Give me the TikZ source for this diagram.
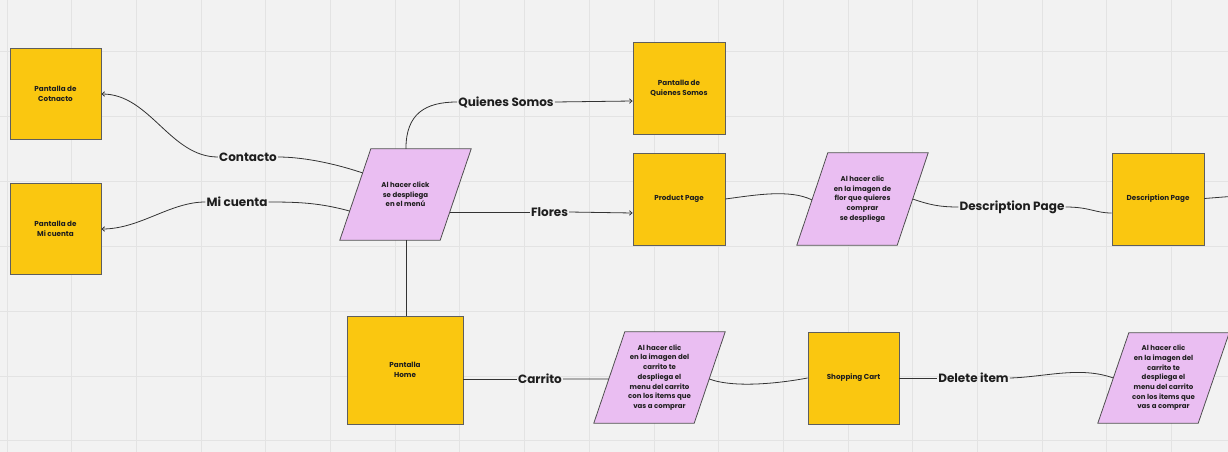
\documentclass[tikz,border=0pt]{standalone}
\usepackage{fontspec}
\setmainfont{Poppins}
\usetikzlibrary{arrows.meta,calc}
\pgfdeclarelayer{back}
\pgfdeclarelayer{mid}
\pgfsetlayers{back,mid,main}
\definecolor{bg}{HTML}{F2F2F2}
\definecolor{gridc}{HTML}{E3E3E3}
\definecolor{boxy}{HTML}{FAC710}
\definecolor{boxb}{HTML}{5E5E5E}
\definecolor{lila}{HTML}{EABEF2}
\definecolor{lilab}{HTML}{505050}
\definecolor{ink}{HTML}{1E1E1E}
\definecolor{wire}{HTML}{333333}
\tikzset{
  gridline/.style={draw=gridc, line width=1pt},
  scrbox/.style={rectangle, draw=boxb, fill=boxy, line width=0.9pt, inner sep=0pt,
    align=center, text=ink, font=\bfseries\fontsize{7.2}{10}\selectfont},
  parabody/.style={rectangle, minimum width=100pt, inner sep=0pt, align=center, text=ink,
    font=\bfseries\fontsize{7}{9.7}\selectfont},
  parashape/.style={draw=lilab, fill=lila, line width=0.8pt, line join=miter},
  lbl/.style={inner sep=1pt, text=ink, font=\bfseries\fontsize{12}{14}\selectfont},
  wireline/.style={draw=wire, line width=0.8pt},
  arr/.style={wireline, -{Straight Barb[length=2.5pt,width=4.5pt]}}
}
% draw a parallelogram around a body node: #1 = node name, slant 15.5 each side
\newcommand\drawpara[1]{%
  \coordinate (#1-tl) at ($(#1.north west)+(15.5,0)$);
  \coordinate (#1-tr) at ($(#1.north east)+(15.5,0)$);
  \coordinate (#1-bl) at ($(#1.south west)+(-15.5,0)$);
  \coordinate (#1-br) at ($(#1.south east)+(-15.5,0)$);
  \begin{pgfonlayer}{mid}
    \path[parashape] (#1-tl) -- (#1-tr) -- (#1-br) -- (#1-bl) -- cycle;
  \end{pgfonlayer}}
\begin{document}
\begin{tikzpicture}[x=1pt,y=-1pt]
\useasboundingbox (0,0) rectangle (1228,452);
\begin{pgfonlayer}{back}
\fill[bg] (0,0) rectangle (1228,452);
\foreach \i in {0,...,18} \draw[gridline] ({7+64.7*\i},0) -- ({7+64.7*\i},452);
\foreach \j in {0,...,6} \draw[gridline] (0,{52+64.8*\j}) -- (1228,{52+64.8*\j});
\end{pgfonlayer}

% boxes
\node[scrbox, minimum width=91pt, minimum height=91pt] (cont) at (55.5,93.5) {Pantalla de\\Cotnacto};
\node[scrbox, minimum width=91pt, minimum height=91pt] (mic) at (55.5,228.5) {Pantalla de\\Mi cuenta};
\node[scrbox, minimum width=92pt, minimum height=92pt] (qs) at (679,88) {Pantalla de\\Quienes Somos};
\node[scrbox, minimum width=92pt, minimum height=92pt] (pp) at (679,199) {Product Page};
\node[scrbox, minimum width=92pt, minimum height=92pt] (dp) at (1158,199) {Description Page};
\node[scrbox, minimum width=116pt, minimum height=108pt] (home) at (405,370) {Pantalla\\Home};
\node[scrbox, minimum width=91pt, minimum height=92pt] (sc) at (853.5,378) {Shopping Cart};

% parallelograms
\node[parabody, minimum height=91pt] (menu) at (405.5,194.5) {Al hacer click\\se despliega\\en el menú};
\drawpara{menu}
\node[parabody, minimum height=92pt] (flor) at (862.5,199) {Al hacer clic\\en la imagen de\\flor que quieres\\comprar\\se despliega};
\drawpara{flor}
\node[parabody, minimum height=91pt] (carp) at (659.5,377.5) {Al hacer clic\\en la imagen del\\carrito te\\despliega el\\menu del carrito\\con los items que\\vas a comprar};
\drawpara{carp}
\node[parabody, minimum height=90pt] (delp) at (1163.5,378) {Al hacer clic\\en la imagen del\\carrito te\\despliega el\\menu del carrito\\con los items que\\vas a comprar};
\drawpara{delp}

% labels
\node[lbl] (lcont) at (248,157) {Contacto};
\node[lbl] (lmic) at (237,202) {Mi cuenta};
\node[lbl] (lqs) at (506,102) {Quienes Somos};
\node[lbl] (lflo) at (549.5,212) {Flores};
\node[lbl] (ldp) at (1012,207) {Description Page};
\node[lbl] (lcar) at (540,379) {Carrito};
\node[lbl] (ldel) at (973.5,378) {Delete item};

% attachment points on slanted edges
\coordinate (mL1) at ($(menu-bl)!0.736!(menu-tl)$);
\coordinate (mL2) at ($(menu-bl)!0.319!(menu-tl)$);
\coordinate (mT) at ($(menu-tl)!0.35!(menu-tr)$);
\coordinate (mR) at ($(menu-br)!0.308!(menu-tr)$);
\coordinate (mB) at ($(menu-bl)!0.66!(menu-br)$);
\coordinate (fL) at ($(flor-bl)!0.49!(flor-tl)$);
\coordinate (fR) at ($(flor-br)!0.5!(flor-tr)$);
\coordinate (cL) at ($(carp-bl)!0.484!(carp-tl)$);
\coordinate (cR) at ($(carp-br)!0.484!(carp-tr)$);
\coordinate (dL) at ($(delp-bl)!0.5!(delp-tl)$);
\coordinate (offR) at (1230,196.5);

% connectors
\draw[wireline] (mL1) .. controls (330,162) and (300,157) .. (lcont.east);
\draw[arr] (lcont.west) .. controls (170,157) and (150,94) .. (cont.east |- 0,94);
\draw[wireline] (mL2) .. controls (320,203) and (300,202) .. (lmic.east);
\draw[arr] (lmic.west) .. controls (170,202) and (140,229) .. (mic.east |- 0,229);
\draw[wireline] (mT) .. controls ($(mT)+(0,-35)$) and (425,102) .. (lqs.west);
\draw[arr] (lqs.east) -- (qs.west |- 0,101);
\draw[wireline] (mR) -- (lflo.west |- mR);
\draw[arr] (lflo.east) -- (pp.west |- 0,213);
\draw[wireline] (mB) -- (mB |- home.north);
\draw[wireline] (pp.east) .. controls (755,195) and (790,189) .. (fL);
\draw[wireline] (fR) .. controls (930,205) and (940,207) .. (ldp.west);
\draw[wireline] (ldp.east) .. controls (1090,207) and (1095,213) .. (dp.west |- 0,213);
\draw[wireline] (dp.east |- 0,198.5) -- (offR);
\draw[wireline] (home.east |- 0,379) -- (lcar.west);
\draw[wireline] (lcar.east) -- (cL);
\draw[wireline] (cR) .. controls (730,387) and (770,385) .. (sc.west);
\draw[wireline] (sc.east) -- (ldel.west);
\draw[wireline] (ldel.east) .. controls (1045,377) and (1080,366) .. (dL);
\end{tikzpicture}
\end{document}
